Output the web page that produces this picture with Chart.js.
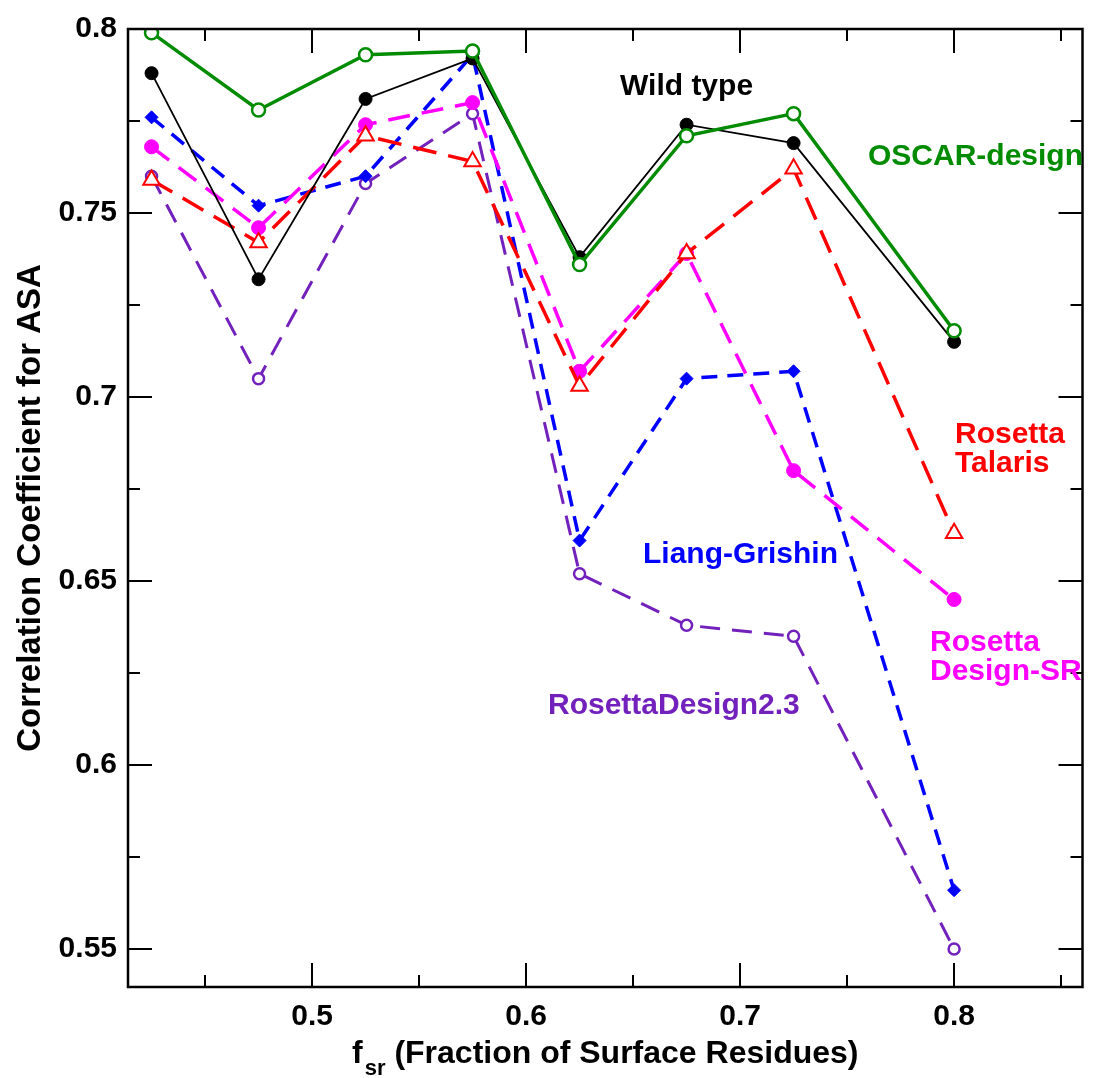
<!DOCTYPE html>
<html>
<head>
<meta charset="utf-8">
<script src="https://cdn.jsdelivr.net/npm/chart.js@4.4.1/dist/chart.umd.min.js"></script>
<style>
  html, body { margin: 0; padding: 0; background: #ffffff; }
  #wrap { width: 1094px; height: 1078px; position: relative; }
</style>
</head>
<body>
<div id="wrap"><canvas id="c" width="1094" height="1078"></canvas></div>
<script>
// ---- data ----
const fsrValues = [0.425, 0.475, 0.525, 0.575, 0.625, 0.675, 0.725, 0.8];
const wildType        = [0.788, 0.732, 0.781, 0.792, 0.738, 0.774, 0.769, 0.715];
const oscarDesign     = [0.799, 0.778, 0.793, 0.794, 0.736, 0.771, 0.777, 0.718];
const liangGrishin    = [0.776, 0.752, 0.760, 0.793, 0.661, 0.705, 0.707, 0.566];
const rosettaDesignSR = [0.768, 0.746, 0.774, 0.780, 0.707, 0.739, 0.680, 0.645];
const rosettaTalaris  = [0.759, 0.742, 0.771, 0.764, 0.703, 0.739, 0.762, 0.663];
const rosettaDesign23 = [0.760, 0.705, 0.758, 0.777, 0.652, 0.638, 0.635, 0.550];

const xTickValues = [0.5, 0.6, 0.7, 0.8];
const xMinorTickValues = [0.45, 0.55, 0.65, 0.75, 0.85];
const yTickValues = [0.55, 0.6, 0.65, 0.7, 0.75, 0.8];
const yMinorTickValues = [0.575, 0.625, 0.675, 0.725, 0.775];

const seriesNames = ['Wild type', 'OSCAR-design', 'Liang-Grishin', 'Rosetta Design-SR', 'Rosetta Talaris', 'RosettaDesign2.3'];

const xTitleMain = 'f';
const xTitleSub = 'sr';
const xTitleRest = ' (Fraction of Surface Residues)';
const yTitle = 'Correlation Coefficient for ASA';

// ---- styling ----
const FONT = '"Liberation Sans", Arial, Helvetica, sans-serif';
const GREEN = 'rgb(0,139,0)';
const INDIGO = 'rgb(114,33,188)';

function pts(arr) { return fsrValues.map((x, i) => ({ x: x, y: arr[i] })); }

const inlineLabels = [
  { lines: ['Wild type'], color: '#000000', x: 620, y: 95 },
  { lines: ['OSCAR-design'], color: GREEN, x: 868, y: 165 },
  { lines: ['Rosetta', 'Talaris'], color: '#ff0000', x: 955, y: 443 },
  { lines: ['Liang-Grishin'], color: '#0000ff', x: 643, y: 563 },
  { lines: ['Rosetta', 'Design-SR'], color: '#ff00ff', x: 930, y: 651 },
  { lines: ['RosettaDesign2.3'], color: INDIGO, x: 548, y: 714 }
];

const framePlugin = {
  id: 'frame',
  afterDraw(chart) {
    const ctx = chart.ctx;
    const a = chart.chartArea;
    const xs = chart.scales.x, ys = chart.scales.y;
    ctx.save();
    ctx.strokeStyle = '#000';
    ctx.lineWidth = 2;
    ctx.beginPath();
    xTickValues.forEach(v => {
      const p = Math.round(xs.getPixelForValue(v));
      ctx.moveTo(p, a.bottom); ctx.lineTo(p, a.bottom - 24);
      ctx.moveTo(p, a.top); ctx.lineTo(p, a.top + 24);
    });
    xMinorTickValues.forEach(v => {
      const p = Math.round(xs.getPixelForValue(v));
      ctx.moveTo(p, a.bottom); ctx.lineTo(p, a.bottom - 12);
      ctx.moveTo(p, a.top); ctx.lineTo(p, a.top + 12);
    });
    yTickValues.forEach(v => {
      const p = Math.round(ys.getPixelForValue(v));
      ctx.moveTo(a.left, p); ctx.lineTo(a.left + 24, p);
      ctx.moveTo(a.right, p); ctx.lineTo(a.right - 24, p);
    });
    yMinorTickValues.forEach(v => {
      const p = Math.round(ys.getPixelForValue(v));
      ctx.moveTo(a.left, p); ctx.lineTo(a.left + 12, p);
      ctx.moveTo(a.right, p); ctx.lineTo(a.right - 12, p);
    });
    ctx.stroke();
    ctx.lineWidth = 2.5;
    ctx.strokeRect(a.left, a.top, a.right - a.left, a.bottom - a.top);

    // inline series labels
    ctx.font = 'bold 30px ' + FONT;
    ctx.textAlign = 'left';
    ctx.textBaseline = 'alphabetic';
    inlineLabels.forEach(l => {
      ctx.fillStyle = l.color;
      l.lines.forEach((t, i) => ctx.fillText(t, l.x, l.y + i * 29));
    });

    // x-axis title with subscript
    ctx.fillStyle = '#000';
    const mainFont = 'bold 32px ' + FONT;
    const subFont = 'bold 22px ' + FONT;
    ctx.font = mainFont; const w1 = ctx.measureText(xTitleMain).width;
    ctx.font = subFont; const w2 = ctx.measureText(xTitleSub).width;
    ctx.font = mainFont; const w3 = ctx.measureText(xTitleRest).width;
    const total = w1 + 2 + w2 + w3;
    const x0 = (a.left + a.right) / 2 - total / 2;
    const base = 1063;
    ctx.font = mainFont; ctx.fillText(xTitleMain, x0, base);
    ctx.font = subFont; ctx.fillText(xTitleSub, x0 + w1 + 2, base + 12);
    ctx.font = mainFont; ctx.fillText(xTitleRest, x0 + w1 + 2 + w2, base);

    // y-axis title
    ctx.save();
    ctx.translate(40, (a.top + a.bottom) / 2);
    ctx.rotate(-Math.PI / 2);
    ctx.textAlign = 'center';
    ctx.textBaseline = 'alphabetic';
    ctx.font = 'bold 33px ' + FONT;
    ctx.fillText(yTitle, 0, 0);
    ctx.restore();
    ctx.restore();
  }
};

const ds = (label, data, opts) => Object.assign({
  label: label, data: pts(data), showLine: true, tension: 0, fill: false
}, opts);

const chart = new Chart(document.getElementById('c'), {
  type: 'scatter',
  data: {
    datasets: [
      ds(seriesNames[1], oscarDesign, {
        borderColor: GREEN, borderWidth: 3.5,
        pointStyle: 'circle', pointRadius: 6.5, pointBorderWidth: 2.5,
        pointBorderColor: GREEN, pointBackgroundColor: '#fff', order: 0
      }),
      ds(seriesNames[0], wildType, {
        borderColor: '#000', borderWidth: 1.8,
        pointStyle: 'circle', pointRadius: 6.5, pointBorderWidth: 1,
        pointBorderColor: '#000', pointBackgroundColor: '#000', order: 1
      }),
      ds(seriesNames[4], rosettaTalaris, {
        borderColor: '#ff0000', borderWidth: 3.5, borderDash: [24, 12],
        pointStyle: 'triangle', pointRadius: 9.5, pointBorderWidth: 2,
        pointBorderColor: '#ff0000', pointBackgroundColor: '#fff', order: 2
      }),
      ds(seriesNames[3], rosettaDesignSR, {
        borderColor: '#ff00ff', borderWidth: 3.5, borderDash: [22, 12],
        pointStyle: 'circle', pointRadius: 7, pointBorderWidth: 1,
        pointBorderColor: '#ff00ff', pointBackgroundColor: '#ff00ff', order: 3
      }),
      ds(seriesNames[2], liangGrishin, {
        borderColor: '#0000ff', borderWidth: 3.5, borderDash: [16, 10],
        pointStyle: 'rectRot', pointRadius: 6.5, pointBorderWidth: 1,
        pointBorderColor: '#0000ff', pointBackgroundColor: '#0000ff', order: 4
      }),
      ds(seriesNames[5], rosettaDesign23, {
        borderColor: INDIGO, borderWidth: 3, borderDash: [20, 12],
        pointStyle: 'circle', pointRadius: 5.5, pointBorderWidth: 2.5,
        pointBorderColor: INDIGO, pointBackgroundColor: '#fff', order: 5
      })
    ]
  },
  options: {
    responsive: false,
    animation: false,
    devicePixelRatio: 1,
    layout: { padding: { left: 0, right: 2, top: 24, bottom: 0 } },
    plugins: { legend: { display: false }, tooltip: { enabled: false }, title: { display: false } },
    scales: {
      x: {
        type: 'linear', min: 0.414, max: 0.86,
        grid: { display: false, drawTicks: false },
        border: { display: false },
        afterFit(s) { s.height = 91; },
        afterBuildTicks(s) { s.ticks = xTickValues.map(v => ({ value: v })); },
        ticks: {
          padding: 12, color: '#000',
          font: { family: FONT, size: 30, weight: 'bold' },
          callback: v => String(v), autoSkip: false, maxRotation: 0
        }
      },
      y: {
        type: 'linear', min: 0.5397, max: 0.8,
        grid: { display: false, drawTicks: false },
        border: { display: false },
        afterFit(s) { s.width = 128; },
        afterBuildTicks(s) { s.ticks = yTickValues.map(v => ({ value: v })); },
        ticks: {
          padding: 11, color: '#000',
          font: { family: FONT, size: 30, weight: 'bold' },
          callback: v => String(v), autoSkip: false
        }
      }
    }
  },
  plugins: [framePlugin]
});
</script>
</body>
</html>
